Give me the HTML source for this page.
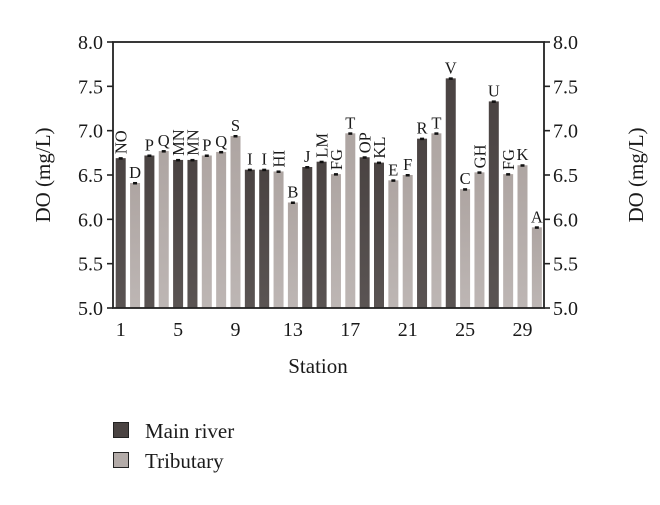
<!DOCTYPE html>
<html><head><meta charset="utf-8"><style>
body{margin:0;background:#fff}
svg{display:block;font-family:"Liberation Serif",serif}
</style></head><body>
<svg id="chart" width="660" height="505" viewBox="0 0 660 505" xmlns="http://www.w3.org/2000/svg">
<defs>
<linearGradient id="gd" x1="0" y1="0" x2="0" y2="1"><stop offset="0" stop-color="#4a4342"/><stop offset="1" stop-color="#5a5453"/></linearGradient>
<linearGradient id="gl" x1="0" y1="0" x2="0" y2="1"><stop offset="0" stop-color="#aea5a2"/><stop offset="1" stop-color="#bdb6b4"/></linearGradient>
</defs>
<g id="bars"></g>
<g id="axes"></g>
<text transform="translate(50,175) rotate(-90)" text-anchor="middle" font-size="21" fill="#1a1a1a">DO (mg/L)</text>
<text transform="translate(643,175) rotate(-90)" text-anchor="middle" font-size="21" fill="#1a1a1a">DO (mg/L)</text>
<text x="318" y="373" text-anchor="middle" font-size="21" fill="#1a1a1a">Station</text>
<g>
<rect x="113.5" y="422.5" width="15" height="15" fill="#4a4342" stroke="#222"/>
<text x="145" y="438" font-size="21" fill="#1a1a1a">Main river</text>
<rect x="113.5" y="452.5" width="15" height="15" fill="#b3aba8" stroke="#222"/>
<text x="145" y="468" font-size="21" fill="#1a1a1a">Tributary</text>
</g>
</svg>
<script>
const stations=[1,2,3,4,5,6,7,8,9,10,11,12,13,14,15,16,17,18,19,20,21,22,23,24,25,26,27,28,29,30];
const doValues=[6.69,6.41,6.72,6.77,6.67,6.67,6.72,6.76,6.94,6.56,6.56,6.54,6.19,6.59,6.65,6.51,6.97,6.70,6.64,6.44,6.50,6.91,6.97,7.59,6.34,6.53,7.33,6.51,6.61,5.91];
const types=["M","T","M","T","M","M","T","T","T","M","M","T","T","M","M","T","T","M","M","T","T","M","T","M","T","T","M","T","T","T"];
const letters=["NO","D","P","Q","MN","MN","P","Q","S","I","I","HI","B","J","LM","FG","T","OP","KL","E","F","R","T","V","C","GH","U","FG","K","A"];
const yTicks=[5.0,5.5,6.0,6.5,7.0,7.5,8.0];
const xTicks=[1,5,9,13,17,21,25,29];
const NS="http://www.w3.org/2000/svg";
const L=113,R=544,T=42,B=308;
function y(v){return B-(v-5)/3*(B-T);}
function x(s){return 120.7+(s-1)*14.35;}
function mk(tag,attrs,parent){const e=document.createElementNS(NS,tag);for(const k in attrs)e.setAttribute(k,attrs[k]);parent.appendChild(e);return e;}
const bars=document.getElementById('bars'),axes=document.getElementById('axes');
stations.forEach((s,i)=>{
 const v=doValues[i],cx=x(s),top=y(v);
 const r=mk('rect',{x:cx-5,y:top,width:10,height:B-top,fill:types[i]==="M"?"url(#gd)":"url(#gl)"},bars);
 
 
 const eb=mk('rect',{x:cx-2,y:top-1,width:4,height:2.5,fill:"#111"},bars);
 
 
 const lab=letters[i];
 let t;
 if(lab.length>1){
  t=mk('text',{transform:`translate(${cx+6},${top-4}) rotate(-90)`,'font-size':16.5,fill:'#1a1a1a'},bars);
 }else{
  t=mk('text',{x:cx,y:top-5,'text-anchor':'middle','font-size':16.5,fill:'#1a1a1a'},bars);
 }
 t.textContent=lab;
 
 
});
const frame=mk('rect',{x:L,y:T,width:R-L,height:B-T,fill:'none',stroke:'#222','stroke-width':1.8},axes);


yTicks.forEach(v=>{
 const yy=y(v);
 mk('line',{x1:L-6,x2:L,y1:yy,y2:yy,stroke:'#222','stroke-width':1.6},axes);
 mk('line',{x1:R,x2:R+6,y1:yy,y2:yy,stroke:'#222','stroke-width':1.6},axes);
 const a=mk('text',{x:L-10,y:yy+7,'text-anchor':'end','font-size':20,fill:'#1a1a1a'},axes);
 a.textContent=v.toFixed(1);
 
 
 const b=mk('text',{x:R+9,y:yy+7,'font-size':20,fill:'#1a1a1a'},axes);
 b.textContent=v.toFixed(1);
 
 
});
xTicks.forEach(s=>{
 const t=mk('text',{x:x(s),y:336,'text-anchor':'middle','font-size':20,fill:'#1a1a1a'},axes);
 t.textContent=s;
 
 
});
</script>
</body></html>
